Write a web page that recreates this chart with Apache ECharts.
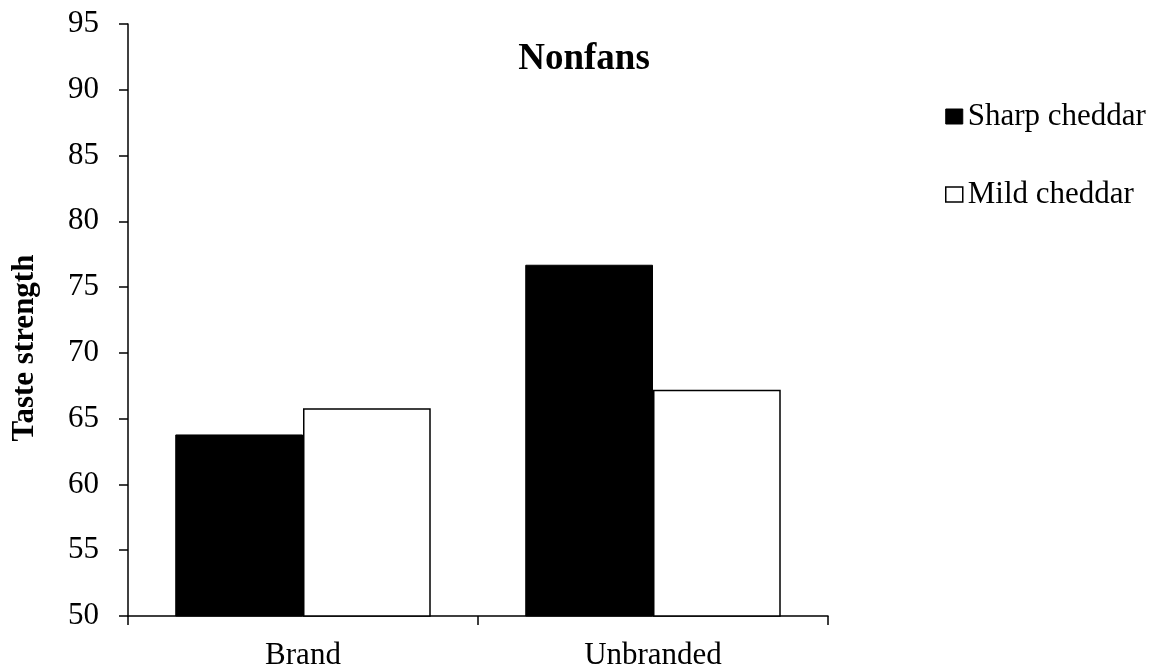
<!DOCTYPE html>
<html>
<head>
<meta charset="utf-8">
<style>
  html, body { margin: 0; padding: 0; background: #fff; }
  #chart { width: 1161px; height: 671px; }
</style>
<script src="https://cdn.jsdelivr.net/npm/echarts@6/dist/echarts.min.js"></script>
</head>
<body>
<div id="chart"></div>
<script>
// Taste strength ratings among nonfans, by branding condition
const categories = ['Brand', 'Unbranded'];
const sharpCheddar = [63.8, 76.7];
const mildCheddar = [65.8, 67.2];
const seriesNames = ['Sharp cheddar', 'Mild cheddar'];
const yTicks = { min: 50, max: 95, interval: 5 };

const FONT = "'Liberation Serif', 'Times New Roman', serif";

const chart = echarts.init(document.getElementById('chart'), null, { renderer: 'canvas' });

chart.setOption({
  backgroundColor: '#ffffff',
  animation: false,
  title: {
    text: 'Nonfans',
    left: 579,
    top: 36,
    textAlign: 'center',
    textStyle: { fontFamily: FONT, fontWeight: 'bold', fontSize: 37, color: '#000', lineHeight: 37 }
  },
  legend: {
    orient: 'vertical',
    left: 945,
    top: 101,
    padding: 0,
    itemWidth: 17,
    itemHeight: 15,
    itemGap: 47,
    icon: 'rect',
    textStyle: { fontFamily: FONT, fontSize: 31, color: '#000', lineHeight: 31 },
    data: [
      { name: seriesNames[0], itemStyle: { color: '#000', borderColor: '#000', borderWidth: 1 } },
      { name: seriesNames[1], itemStyle: { color: '#fff', borderColor: '#000', borderWidth: 1.5 } }
    ]
  },
  grid: { left: 128, right: 333, top: 24, bottom: 54, containLabel: false },
  xAxis: {
    type: 'category',
    data: categories,
    boundaryGap: true,
    axisLine: { show: true, lineStyle: { color: '#000', width: 1.5 } },
    axisTick: { show: true, inside: false, length: 9, alignWithLabel: false, lineStyle: { color: '#000', width: 1.5 } },
    axisLabel: { fontFamily: FONT, fontSize: 31, color: '#000', margin: 24, lineHeight: 31 },
    splitLine: { show: false }
  },
  yAxis: {
    type: 'value',
    min: yTicks.min,
    max: yTicks.max,
    interval: yTicks.interval,
    axisLine: { show: true, lineStyle: { color: '#000', width: 1.5 } },
    axisTick: { show: true, inside: false, length: 9, lineStyle: { color: '#000', width: 1.5 } },
    axisLabel: { fontFamily: FONT, fontSize: 31, color: '#000', margin: 29 },
    splitLine: { show: false }
  },
  graphic: [{
    type: 'text',
    x: 25,
    y: 348,
    rotation: Math.PI / 2,
    style: {
      text: 'Taste strength',
      fontFamily: FONT,
      fontWeight: 'bold',
      fontSize: 31,
      fill: '#000',
      textAlign: 'center',
      textVerticalAlign: 'middle'
    }
  }],
  series: [
    {
      name: seriesNames[0],
      type: 'bar',
      data: sharpCheddar,
      barGap: '0%',
      barCategoryGap: '27%',
      itemStyle: { color: '#000', borderColor: '#000', borderWidth: 1 }
    },
    {
      name: seriesNames[1],
      type: 'bar',
      data: mildCheddar,
      barGap: '0%',
      barCategoryGap: '27%',
      itemStyle: { color: '#fff', borderColor: '#000', borderWidth: 1.5 }
    }
  ]
});
</script>
</body>
</html>
